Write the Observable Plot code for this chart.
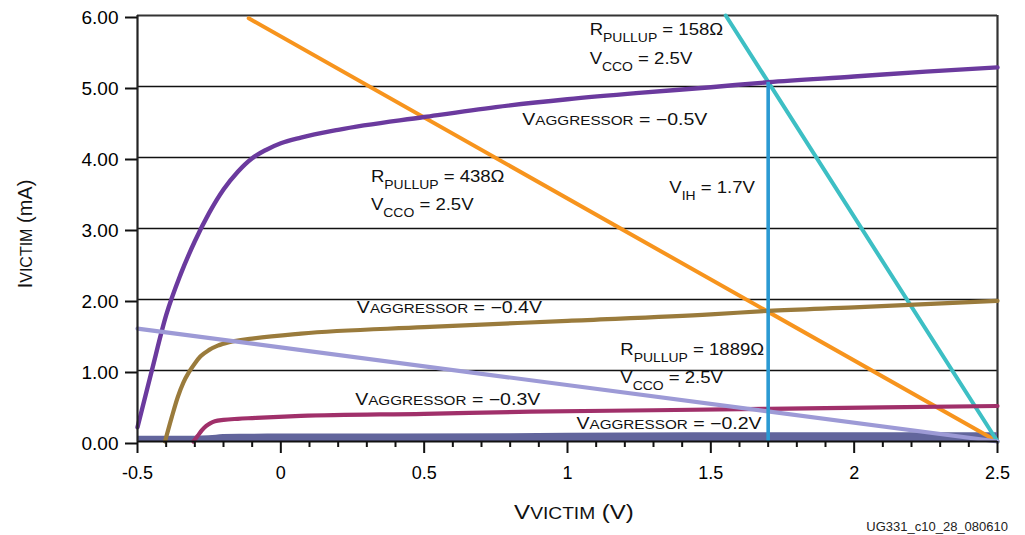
<!DOCTYPE html>
<html><head><meta charset="utf-8">
<script src="https://cdn.jsdelivr.net/npm/d3@7"></script>
<script src="https://cdn.jsdelivr.net/npm/@observablehq/plot@0.6"></script>
<style>
body{margin:0;background:#fff;}
svg{font-family:"Liberation Sans",Arial,Helvetica,sans-serif;}
</style></head><body><div id="chart"></div>
<script>
// ---- tick values ----
const xTicks = [-0.5, 0, 0.5, 1, 1.5, 2, 2.5];
const xMinorTicks = [-0.4, -0.3, -0.2, -0.1, 0.1, 0.2, 0.3, 0.4, 0.6, 0.7, 0.8, 0.9, 1.1, 1.2, 1.3, 1.4, 1.6, 1.7, 1.8, 1.9, 2.1, 2.2, 2.3, 2.4];
const yTicks = [0, 1, 2, 3, 4, 5, 6];
const yGrid = [1, 2, 3, 4, 5];

// ---- V_AGGRESSOR = -0.5V (purple) ----
const aggr05V = [-0.5, -0.45, -0.4, -0.35, -0.3, -0.25, -0.2, -0.15, -0.1, -0.05, 0, 0.07, 0.2, 0.5, 0.75, 1.0, 1.25, 1.5, 1.7, 2.0, 2.25, 2.5];
const aggr05I = [0.2, 1.0, 1.78, 2.35, 2.82, 3.22, 3.55, 3.8, 3.99, 4.11, 4.2, 4.28, 4.39, 4.57, 4.71, 4.82, 4.91, 4.99, 5.06, 5.14, 5.21, 5.27];
// ---- V_AGGRESSOR = -0.4V (brown) ----
const aggr04V = [-0.404, -0.38, -0.36, -0.34, -0.32, -0.3, -0.28, -0.25, -0.22, -0.18, -0.1, 0.07, 0.5, 1.0, 1.5, 1.7, 2.0, 2.5];
const aggr04I = [0, 0.35, 0.62, 0.83, 0.98, 1.1, 1.2, 1.29, 1.35, 1.4, 1.45, 1.52, 1.61, 1.7, 1.79, 1.84, 1.89, 1.98];
// ---- V_AGGRESSOR = -0.3V (magenta) ----
const aggr03V = [-0.305, -0.29, -0.275, -0.26, -0.245, -0.23, -0.2, -0.15, -0.1, 0.07, 0.5, 0.87, 1.3, 1.7, 2.1, 2.5];
const aggr03I = [0, 0.08, 0.16, 0.22, 0.26, 0.285, 0.305, 0.32, 0.33, 0.36, 0.39, 0.42, 0.44, 0.46, 0.48, 0.5];
// ---- V_AGGRESSOR = -0.2V (slate, thick band near zero) ----
const aggr02V = [-0.5, -0.3, -0.25, -0.2, 0, 0.8, 1.2, 2.5];
const aggr02I = [0.075, 0.075, 0.08, 0.1, 0.105, 0.11, 0.12, 0.125];
// ---- Load lines ----
const pull158V = [1.552, 2.5];
const pull158I = [6.0, 0];
const pull438V = [-0.112, 2.5];
const pull438I = [5.96, 0];
const pull1889V = [-0.5, 2.5];
const pull1889I = [1.59, 0];
// ---- V_IH ----
const vihV = [1.7];
const vihTop = [5.06];

// ---- annotations (text + data-space anchor) ----
const annotations = [
  {main: "R", sub: "PULLUP", rest: " = 158Ω", v: 1.079, i: 5.72, kind: "sub"},
  {main: "V", sub: "CCO", rest: " = 2.5V", v: 1.079, i: 5.31, kind: "sub"},
  {main: "V", sub: "AGGRESSOR", rest: " = −0.5V", v: 0.844, i: 4.45, kind: "small"},
  {main: "R", sub: "PULLUP", rest: " = 438Ω", v: 0.316, i: 3.65, kind: "sub"},
  {main: "V", sub: "CCO", rest: " = 2.5V", v: 0.316, i: 3.25, kind: "sub"},
  {main: "V", sub: "IH", rest: " = 1.7V", v: 1.357, i: 3.49, kind: "sub"},
  {main: "V", sub: "AGGRESSOR", rest: " = −0.4V", v: 0.267, i: 1.80, kind: "small"},
  {main: "R", sub: "PULLUP", rest: " = 1889Ω", v: 1.186, i: 1.21, kind: "sub"},
  {main: "V", sub: "CCO", rest: " = 2.5V", v: 1.186, i: 0.81, kind: "sub"},
  {main: "V", sub: "AGGRESSOR", rest: " = −0.3V", v: 0.261, i: 0.505, kind: "small"},
  {main: "V", sub: "AGGRESSOR", rest: " = −0.2V", v: 1.033, i: 0.175, kind: "small"}
];
const xLabel = {main: "V", sub: "VICTIM", rest: " (V)"};
const yLabel = {main: "I", sub: "VICTIM", rest: " (mA)"};
const captionText = "UG331_c10_28_080610";

const rows = (vs, is) => vs.map((v, k) => ({v, i: is[k]}));

const plot = Plot.plot({
  width: 1025,
  height: 535,
  marginLeft: 137,
  marginRight: 28,
  marginTop: 15,
  marginBottom: 94,
  x: {domain: [-0.5, 2.5]},
  y: {domain: [0, 6]},
  marks: [
    Plot.gridY(yGrid, {stroke: "#111", strokeOpacity: 1, strokeWidth: 1.6}),
    Plot.ruleY([6], {stroke: "#333", strokeWidth: 2.2}),
    Plot.ruleX([2.5], {stroke: "#333", strokeWidth: 2.2}),
    Plot.areaY(rows(aggr02V, aggr02I), {x: "v", y1: -0.015, y2: "i", fill: "#62659c", curve: "monotone-x"}),
    Plot.line(rows(pull438V, pull438I), {x: "v", y: "i", stroke: "#f7941d", strokeWidth: 4}),
    Plot.line(rows(pull158V, pull158I), {x: "v", y: "i", stroke: "#3dbfc4", strokeWidth: 4}),
    Plot.line(rows(aggr05V, aggr05I), {x: "v", y: "i", stroke: "#6b3a9e", strokeWidth: 4.4, curve: "monotone-x"}),
    Plot.line(rows(aggr04V, aggr04I), {x: "v", y: "i", stroke: "#9a7b3c", strokeWidth: 4.2, curve: "monotone-x"}),
    Plot.line(rows(aggr03V, aggr03I), {x: "v", y: "i", stroke: "#a0306a", strokeWidth: 4.2, curve: "monotone-x"}),
    Plot.line(rows(pull1889V, pull1889I), {x: "v", y: "i", stroke: "#9d9ad6", strokeWidth: 4.2}),
    Plot.ruleX(vihV, {y1: 0, y2: vihTop[0], stroke: "#2b9ad3", strokeWidth: 3.6}),
    Plot.ruleY([0], {stroke: "#111", strokeWidth: 2}),
    Plot.ruleX([-0.5], {stroke: "#222", strokeWidth: 2.2}),
    Plot.axisY(yTicks, {tickSize: 12, tickPadding: 7, tickFormat: d3.format(".2f"), fontSize: 19, label: null, strokeWidth: 2, stroke: "#111", dy: 2}),
    Plot.axisX(xTicks, {tickSize: 12, tickPadding: 13, tickFormat: d => String(d), fontSize: 18, label: null, strokeWidth: 2, stroke: "#111"}),
    Plot.axisX(xMinorTicks, {tickSize: 6, tickFormat: () => "", label: null, strokeWidth: 2, stroke: "#111"})
  ]
});

document.getElementById("chart").appendChild(plot);
const svg = d3.select(plot);
svg.selectAll("text").filter(function() { return this.textContent === ""; }).remove();

const X = plot.scale("x"), Y = plot.scale("y");
const fam = '"Liberation Sans",Arial,Helvetica,sans-serif';
const g = svg.append("g").attr("font-family", fam).attr("fill", "#111").attr("text-anchor", "start");

annotations.forEach(a => {
  const t = g.append("text")
    .attr("x", X.apply(a.v)).attr("y", Y.apply(a.i))
    .attr("text-anchor", "start")
    .attr("font-size", 16);
  t.append("tspan").text(a.main);
  if (a.kind === "sub") {
    t.append("tspan").attr("font-size", 12).attr("dy", 7).text(a.sub);
    t.append("tspan").attr("dy", -7).text(a.rest);
  } else {
    t.append("tspan").attr("font-size", 12.5).text(a.sub);
    t.append("tspan").text(a.rest);
  }
  const len = t.node().getComputedTextLength();
  const f = a.kind === "sub" ? 1.16 : 1.22;
  t.attr("textLength", len * f).attr("lengthAdjust", "spacingAndGlyphs");
});

// x axis title
{
  const t = g.append("text")
    .attr("x", X.apply(1.0) + 7).attr("y", 519)
    .attr("text-anchor", "middle").attr("font-size", 20);
  t.append("tspan").text(xLabel.main);
  t.append("tspan").attr("font-size", 16).text(xLabel.sub);
  t.append("tspan").text(xLabel.rest);
  const len = t.node().getComputedTextLength();
  t.attr("textLength", len * 1.2).attr("lengthAdjust", "spacingAndGlyphs");
}
// y axis title
{
  const t = g.append("text")
    .attr("transform", `translate(32,${Y.apply(3) + 6}) rotate(-90)`)
    .attr("text-anchor", "middle").attr("font-size", 20);
  t.append("tspan").text(yLabel.main);
  t.append("tspan").attr("font-size", 16).text(yLabel.sub);
  t.append("tspan").text(yLabel.rest);
}
// caption
g.append("text")
  .attr("x", 1008).attr("y", 531)
  .attr("text-anchor", "end").attr("font-size", 13).attr("fill", "#222")
  .text(captionText);
</script>
</body></html>
